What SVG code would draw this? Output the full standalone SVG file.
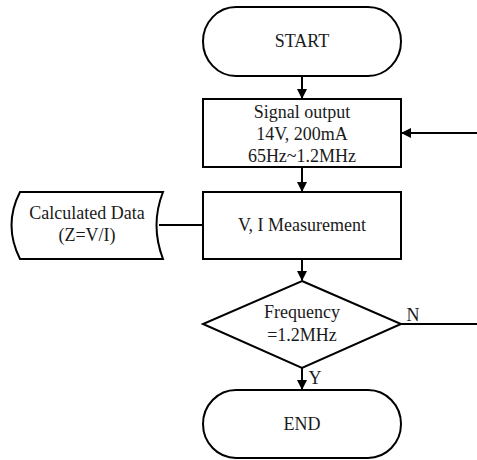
<svg xmlns="http://www.w3.org/2000/svg" width="477" height="460" viewBox="0 0 477 460">
  <style>
    .shape { fill: #ffffff; stroke: #000000; stroke-width: 2; }
    .line { fill: none; stroke: #000000; stroke-width: 2; }
    text { font-family: "Liberation Serif", "Times New Roman", serif; font-size: 18px; fill: #1a1a1a; text-anchor: middle; }
  </style>
  <defs>
    <marker id="arrow" markerWidth="10" markerHeight="10" refX="9" refY="5" orient="auto" markerUnits="userSpaceOnUse">
      <path d="M0,0 L10,5 L0,10 Z" fill="#000000"/>
    </marker>
  </defs>
  <rect width="477" height="460" fill="#ffffff"/>

  <g id="connectors">
    <line class="line" x1="302" y1="76" x2="302" y2="98" marker-end="url(#arrow)"/>
    <line class="line" x1="302" y1="167" x2="302" y2="191" marker-end="url(#arrow)"/>
    <line class="line" x1="302" y1="259" x2="302" y2="280" marker-end="url(#arrow)"/>
    <line class="line" x1="302" y1="368" x2="302" y2="389" marker-end="url(#arrow)"/>
    <line class="line" x1="477" y1="133" x2="402" y2="133" marker-end="url(#arrow)"/>
    <line class="line" x1="401" y1="324" x2="477" y2="324"/>
    <line class="line" x1="159" y1="225" x2="203" y2="225"/>
    <text x="413" y="321">N</text>
    <text x="315" y="384">Y</text>
  </g>

  <g id="start">
    <rect class="shape" x="203" y="7" width="198" height="69" rx="33" ry="34.5"/>
    <text x="302" y="47">START</text>
  </g>

  <g id="signal-output">
    <rect class="shape" x="203" y="99" width="198" height="68"/>
    <text x="302" y="118">Signal output</text>
    <text x="302" y="140">14V, 200mA</text>
    <text x="302" y="162">65Hz~1.2MHz</text>
  </g>

  <g id="measurement">
    <rect class="shape" x="203" y="192" width="198" height="67"/>
    <text x="302" y="231">V, I Measurement</text>
  </g>

  <g id="calculated-data">
    <path class="shape" d="M20,192 L163,192 Q150,225 163,259 L20,259 Q3,225 20,192 Z"/>
    <text x="87" y="219">Calculated Data</text>
    <text x="87" y="241">(Z=V/I)</text>
  </g>

  <g id="frequency-check">
    <polygon class="shape" points="302,281 401,324 302,368 203,324"/>
    <text x="302" y="318">Frequency</text>
    <text x="302" y="341">=1.2MHz</text>
  </g>

  <g id="end">
    <rect class="shape" x="203" y="390" width="198" height="68" rx="33" ry="34"/>
    <text x="302" y="430">END</text>
  </g>
</svg>
